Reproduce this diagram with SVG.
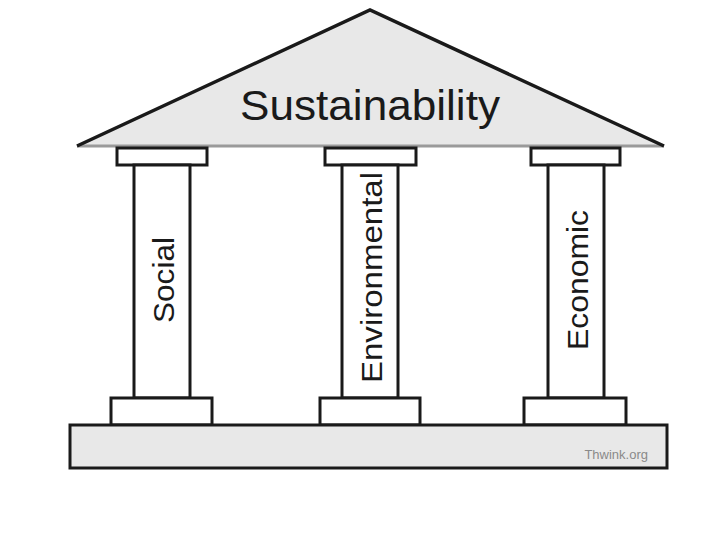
<svg xmlns="http://www.w3.org/2000/svg" width="720" height="540" viewBox="0 0 720 540">
<style>
.part{fill:#ffffff;stroke:#1a1a1a;stroke-width:3}
.col{fill:#ffffff;stroke:#1a1a1a;stroke-width:3}
.lbl{font-family:"Liberation Sans",Arial,sans-serif;font-size:30px;fill:#1a1a1a}
</style>
<rect width="720" height="540" fill="#ffffff"/>
<g id="roof">
<polygon points="77,146 370,10 664,146" fill="#e8e8e8"/>
<line x1="77" y1="146" x2="664" y2="146" stroke="#9a9a9a" stroke-width="3"/>
<polyline points="77,146 370,10 664,146" fill="none" stroke="#1a1a1a" stroke-width="3.5" stroke-linejoin="miter"/>
<text x="370" y="120" text-anchor="middle" font-family="'Liberation Sans',Arial,sans-serif" font-size="43" fill="#1a1a1a" textLength="260" lengthAdjust="spacingAndGlyphs">Sustainability</text>
</g>
<g id="social">
<rect class="part" x="117" y="148" width="90" height="17"/>
<rect class="col" x="134" y="165" width="56" height="233"/>
<rect class="part" x="111" y="398" width="101" height="27"/>
<text class="lbl" transform="translate(174,280) rotate(-90)" text-anchor="middle" textLength="86" lengthAdjust="spacingAndGlyphs">Social</text>
</g>
<g id="environmental">
<rect class="part" x="325" y="148" width="91" height="17"/>
<rect class="col" x="342" y="165" width="56" height="233"/>
<rect class="part" x="320" y="398" width="100" height="27"/>
<text class="lbl" transform="translate(382,277.5) rotate(-90)" text-anchor="middle" textLength="211" lengthAdjust="spacingAndGlyphs">Environmental</text>
</g>
<g id="economic">
<rect class="part" x="531" y="148" width="89" height="17"/>
<rect class="col" x="548" y="165" width="56" height="233"/>
<rect class="part" x="524" y="398" width="102" height="27"/>
<text class="lbl" transform="translate(588,280) rotate(-90)" text-anchor="middle" textLength="140" lengthAdjust="spacingAndGlyphs">Economic</text>
</g>
<g id="platform">
<rect x="70" y="425" width="597" height="43" fill="#e8e8e8" stroke="#1a1a1a" stroke-width="3"/>
<text x="648" y="459" text-anchor="end" font-family="'Liberation Sans',Arial,sans-serif" font-size="13" fill="#8a8a8a">Thwink.org</text>
</g>
<g id="connectors"/>
</svg>
